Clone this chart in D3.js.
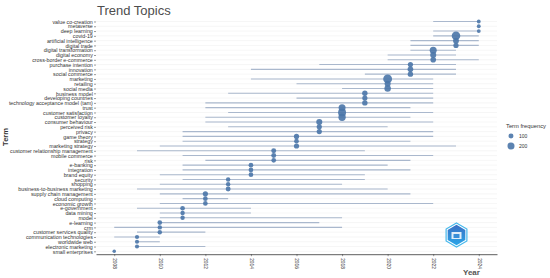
<!DOCTYPE html>
<html><head><meta charset="utf-8">
<script src="https://cdn.jsdelivr.net/npm/d3@7"></script>
<style>body{margin:0;background:#fff}svg{display:block;font-family:"Liberation Sans",Arial,sans-serif}</style>
</head><body><svg id="c" width="550" height="278"></svg>
<script>
const terms = ["value co-creation","metaverse","deep learning","covid-19","artificial intelligence","digital trade","digital transformation","digital economy","cross-border e-commerce","purchase intention","innovation","social commerce","marketing","retailing","social media","business model","developing countries","technology acceptance model (tam)","trust","customer satisfaction","customer loyalty","consumer behaviour","perceived risk","privacy","game theory","strategy","marketing strategy","customer relationship management","mobile commerce","risk","e-banking","integration","brand equity","security","shopping","business-to-business marketing","supply chain management","cloud computing","economic growth","e-government","data mining","model","e-learning","crm","customer services quality","communication technologies","worldwide web","electronic marketing","small enterprises"];
const yearMedian = [2024,2024,2024,2023,2023,2023,2022,2022,2022,2021,2021,2021,2020,2020,2020,2019,2019,2019,2018,2018,2018,2017,2017,2017,2016,2016,2016,2015,2015,2015,2014,2014,2014,2013,2013,2013,2012,2012,2012,2011,2011,2011,2010,2010,2010,2009,2009,2009,2008];
const yearQ1 = [2022,2024,2022,2022,2021,2021,2021,2020,2020,2017,2014,2019,2014,2016,2018,2013,2016,2012,2012,2013,2012,2012,2013,2011,2011,2011,2010,2009,2011,2012,2011,2011,2010,2011,2010,2009,2010,2011,2010,2009,2010,2010,2010,2008,2009,2008,2009,2009,2008];
const yearQ3 = [2024,2024,2024,2024,2024,2024,2023,2023,2024,2023,2023,2023,2022,2022,2022,2022,2022,2022,2021,2022,2021,2022,2020,2022,2022,2021,2023,2019,2022,2021,2020,2021,2019,2019,2018,2020,2021,2013,2022,2014,2014,2018,2017,2018,2012,2010,2010,2012,2008];
const freq = [60,60,60,300,140,110,200,150,130,110,130,120,320,150,170,120,110,120,200,260,220,150,110,110,110,90,110,100,100,90,90,90,90,80,80,100,110,90,90,90,80,80,90,80,80,70,70,70,50];
const legendValues = [100,200];
const xTicks = [2008,2010,2012,2014,2016,2018,2020,2022,2024];

(function(){
const svg = d3.select("#c");
const L = 96, R = 497, T = 18.6, B = 254.2;
const x = d3.scaleLinear().domain([2007.2,2024.8]).range([L,R]);
const y = d3.scalePoint().domain(terms).range([T,B]).padding(0.6);
const r = d3.scaleSqrt().domain([0,200]).range([0,3.5]);

svg.append("text").attr("x",97).attr("y",14.5).attr("font-size",13).attr("fill","#4d4d4d").text("Trend Topics");

svg.append("g").selectAll("line").data(terms).join("line")
  .attr("x1",L).attr("x2",R).attr("y1",d=>y(d)).attr("y2",d=>y(d))
  .attr("stroke","#ededed").attr("stroke-width",0.5);

svg.append("g").selectAll("line").data(terms).join("line")
  .attr("x1",(d,i)=>x(yearQ1[i])).attr("x2",(d,i)=>x(yearQ3[i]))
  .attr("y1",d=>y(d)).attr("y2",d=>y(d))
  .attr("stroke","#aab8cd").attr("stroke-width",1.1);

svg.append("g").selectAll("circle").data(terms).join("circle")
  .attr("cx",(d,i)=>x(yearMedian[i])).attr("cy",d=>y(d)).attr("r",(d,i)=>r(freq[i]))
  .attr("fill","#4a75a8").attr("fill-opacity",0.9);

const ya = svg.append("g").attr("transform",`translate(${L},0)`)
  .call(d3.axisLeft(y).tickSize(2).tickPadding(1.2));
ya.select(".domain").remove();
ya.selectAll("text").attr("font-size",5.3).attr("fill","#333").attr("font-family","Liberation Sans, Arial, sans-serif");
ya.selectAll(".tick line").attr("stroke","#333").attr("stroke-width",0.5);

const xa = svg.append("g").attr("transform",`translate(0,${B})`)
  .call(d3.axisBottom(x).tickValues(xTicks).tickFormat(d3.format("d")).tickSize(2).tickSizeOuter(0));
xa.select(".domain").attr("stroke","#333").attr("stroke-width",0.8);
xa.selectAll(".tick line").attr("stroke","#333").attr("stroke-width",0.5);
xa.selectAll("text").attr("font-size",4.8).attr("fill","#333")
  .attr("transform","rotate(90)").attr("text-anchor","start").attr("x",4).attr("y",0).attr("dy","0.32em")
  .attr("font-family","Liberation Sans, Arial, sans-serif");

svg.append("text").attr("transform","translate(8,137) rotate(-90)").attr("text-anchor","middle")
  .attr("font-size",7.5).attr("font-weight","bold").attr("fill","#333").text("Term");
svg.append("text").attr("x",463).attr("y",275).attr("font-size",8).attr("font-weight","bold").attr("fill","#555").text("Year");

const lg = svg.append("g");
lg.append("text").attr("x",506).attr("y",128).attr("font-size",5.8).attr("fill","#333").text("Term frequency");
lg.selectAll("circle").data(legendValues).join("circle")
  .attr("cx",511).attr("cy",(d,i)=>136+i*10).attr("r",d=>r(d)).attr("fill","#4a75a8").attr("fill-opacity",0.9);
lg.selectAll("text.l").data(legendValues).join("text").attr("class","l")
  .attr("x",519).attr("y",(d,i)=>136+i*10).attr("dy","0.35em").attr("font-size",5).attr("fill","#333").text(d=>d);

const cx=456.5, cy=235, HR=12;
const hexPts = rr => d3.range(6).map(k=>{const a=Math.PI/3*k-Math.PI/2;return [cx+rr*Math.cos(a),cy+rr*Math.sin(a)];}).map(p=>p.join(",")).join(" ");
const defs = svg.append("defs");
const gr = defs.append("linearGradient").attr("id","lgd").attr("x1",0).attr("y1",0).attr("x2",0).attr("y2",1);
gr.append("stop").attr("offset","0%").attr("stop-color","#3a6fc4");
gr.append("stop").attr("offset","100%").attr("stop-color","#2aa6e8");
svg.append("polygon").attr("points",hexPts(HR)).attr("fill","#ffffff").attr("stroke","#46b8ec").attr("stroke-width",1.2);
svg.append("polygon").attr("points",hexPts(HR-1.8)).attr("fill","url(#lgd)");
svg.append("rect").attr("x",cx-5).attr("y",cy-3).attr("width",10).attr("height",7).attr("fill","#ffffff").attr("fill-opacity",0.85);
svg.append("rect").attr("x",cx-3).attr("y",cy-1).attr("width",6).attr("height",4).attr("fill","#3a8fd8");
})();
</script></body></html>
